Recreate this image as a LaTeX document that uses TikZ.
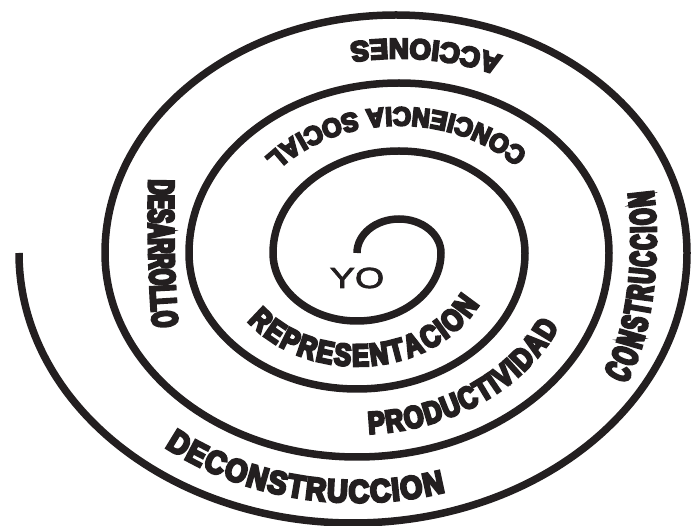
\documentclass[tikz,border=0pt]{standalone}
\usepackage{fontspec}
\usetikzlibrary{decorations.text}
\definecolor{ink}{RGB}{35,31,32}
\newfontfamily\ringfont{Liberation Sans Bold}[FakeBold=8]
\newfontfamily\yofont{Liberation Sans}[FakeStretch=1.3,FakeBold=2.5]
\newcommand\accionesfont{\ringfont\addfontfeature{FakeStretch=0.98}\fontsize{28}{28}\selectfont\color{ink}}
\newcommand\concienciafont{\ringfont\addfontfeature{FakeStretch=0.96}\fontsize{26}{26}\selectfont\color{ink}}
\newcommand\bottomfont{\ringfont\addfontfeature{FakeStretch=0.81}\fontsize{31}{31}\selectfont\color{ink}}
\newcommand\deconfont{\ringfont\addfontfeature{FakeStretch=0.89}\fontsize{32}{32}\selectfont\color{ink}}
\newcommand\sidefont{\ringfont\addfontfeature{FakeStretch=0.57}\fontsize{36}{36}\selectfont\color{ink}}
\tikzset{
  spiral/.style={line width=7.5pt,draw=ink},
  ringtext/.style 2 args={decorate,decoration={text along path,
    text align=fit to path,raise=#1,text={#2}}}
}
\begin{document}
\begin{tikzpicture}[x=1pt,y=1pt]
  \useasboundingbox (0,0) rectangle (691,525);
  \coordinate (ringA) at (399,272);
  \coordinate (ringB) at (357,272);
  \draw[spiral] (ringB)
    arc[start angle=180,end angle=0,x radius=42,y radius=34]
    arc[start angle=0,end angle=-180,x radius=84,y radius=68]
    arc[start angle=180,end angle=0,x radius=126,y radius=102]
    arc[start angle=0,end angle=-180,x radius=168,y radius=136]
    arc[start angle=180,end angle=0,x radius=210,y radius=170]
    arc[start angle=0,end angle=-180,x radius=252,y radius=204]
    arc[start angle=180,end angle=0,x radius=291,y radius=238]
    arc[start angle=0,end angle=-180,x radius=334,y radius=270];
  \node[font=\yofont\fontsize{29}{29}\selectfont,text=ink] (yo) at (357,247) {YO};
  \path[ringtext={-10pt}{|\accionesfont|ACCIONES}]
    ([shift={(66.5:252 and 204)}]ringA) arc[start angle=66.5,end angle=101,x radius=252,y radius=204];
  \path[ringtext={-9.5pt}{|\concienciafont|CONCIENCIA SOCIAL}]
    ([shift={(43:168 and 136)}]ringA) arc[start angle=43,end angle=139.5,x radius=168,y radius=136];
  \path[ringtext={-11pt}{|\bottomfont|REPRESENTACION}]
    ([shift={(216:126 and 102)}]ringB) arc[start angle=216,end angle=334,x radius=126,y radius=102];
  \path[ringtext={-11pt}{|\bottomfont|PRODUCTIVIDAD}]
    ([shift={(273:210 and 170)}]ringB) arc[start angle=273,end angle=336.5,x radius=210,y radius=170];
  \path[ringtext={-11.5pt}{|\deconfont|DECONSTRUCCION}]
    ([shift={(230.7:294 and 238)}]ringB) arc[start angle=230.7,end angle=287,x radius=294,y radius=238];
  \path[ringtext={-13pt}{|\sidefont|DESARROLLO}]
    (162,345) .. controls (161,295) and (162,245) .. (166,198);
  \path[ringtext={-13pt}{|\sidefont|CONSTRUCCION}]
    (614,147) .. controls (640,190) and (648,275) .. (640,333);
\end{tikzpicture}
\end{document}
